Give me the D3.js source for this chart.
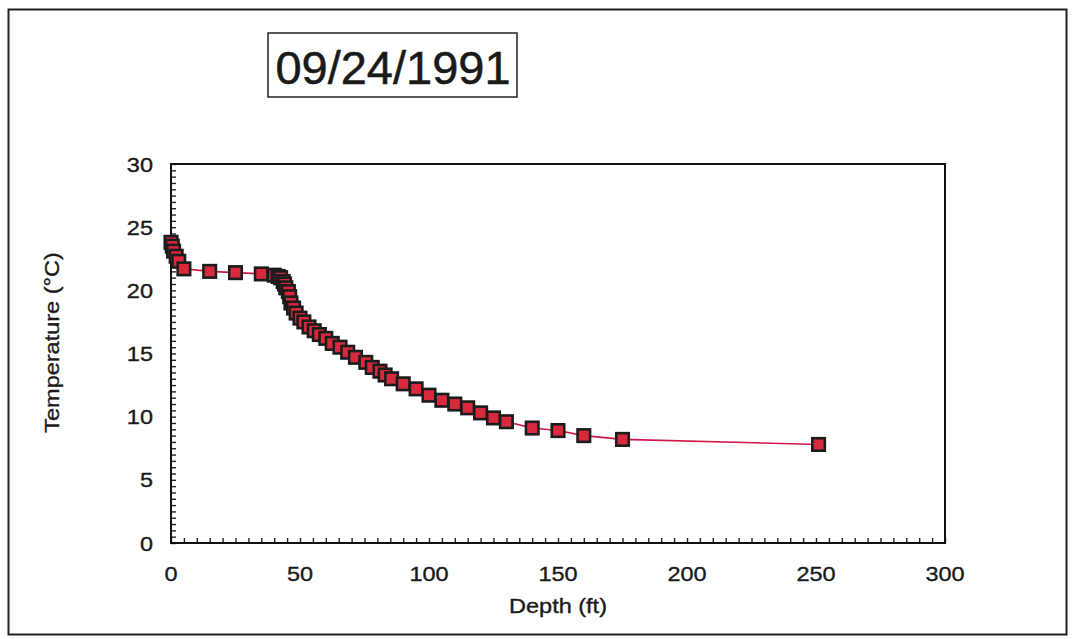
<!DOCTYPE html>
<html>
<head>
<meta charset="utf-8">
<script src="https://cdn.jsdelivr.net/npm/d3@7"></script>
<style>
  body { margin: 0; background: #fff; }
  text { font-family: "Liberation Sans", Arial, sans-serif; fill: #1a1a1a; stroke: #1a1a1a; stroke-width: 0.35px; }
</style>
</head>
<body>
<div id="chart"></div>
<script>
// profile values
var depth = [0, 0.5, 1, 2, 3, 5, 15, 25, 35, 40, 41.5, 42.5, 43.5, 44, 44.5, 45.5, 46, 46.5,
  47.5, 48.5, 50, 51.5, 53.5, 55.5, 57.5, 60, 62.5, 65.5, 68.5, 71.5, 75.5, 78, 81, 83, 85.5,
  90, 95, 100, 105, 110, 115, 120, 125, 130, 140, 150, 160, 175, 251];
var temp = [23.8, 23.5, 23.1, 22.7, 22.3, 21.7, 21.5, 21.4, 21.3, 21.2, 21.1, 21.0, 20.7, 20.5,
  20.2, 19.9, 19.5, 19.0, 18.6, 18.2, 17.8, 17.5, 17.1, 16.8, 16.5, 16.2, 15.8, 15.5, 15.1,
  14.7, 14.3, 13.9, 13.6, 13.3, 13.0, 12.6, 12.2, 11.7, 11.3, 11.0, 10.7, 10.3, 9.9, 9.6,
  9.1, 8.9, 8.5, 8.2, 7.8];
var xTicks = [0, 50, 100, 150, 200, 250, 300];
var yTicks = [0, 5, 10, 15, 20, 25, 30];
var title = "09/24/1991";

var W = 1080, H = 639;
var margin = { top: 164, right: 135, bottom: 96, left: 171 };
var width = W - margin.left - margin.right,
  height = H - margin.top - margin.bottom;

var root = d3.select("#chart").append("svg")
  .attr("width", W)
  .attr("height", H);

// page frame
root.append("rect")
  .attr("x", 8.5).attr("y", 9.5)
  .attr("width", 1058).attr("height", 625)
  .attr("fill", "none").attr("stroke", "#222").attr("stroke-width", 2);

// title box
root.append("rect")
  .attr("x", 268).attr("y", 33)
  .attr("width", 249).attr("height", 64)
  .attr("fill", "#fff").attr("stroke", "#222").attr("stroke-width", 1.5);
root.append("text")
  .attr("x", 393).attr("y", 84)
  .attr("text-anchor", "middle")
  .style("font-size", "47px")
  .style("stroke-width", "0.5px")
  .text(title);

var svg = root.append("g")
  .attr("transform", "translate(" + margin.left + "," + margin.top + ")");

var x = d3.scaleLinear().domain([0, 300]).range([0, width]);
var y = d3.scaleLinear().domain([0, 30]).range([height, 0]);

// minor ticks, pointing inward
var xAxis = d3.axisTop(x).tickValues(d3.range(0, 301, 5)).tickSize(5).tickFormat("");
var yAxis = d3.axisRight(y).tickValues(d3.range(0, 30.01, 0.5)).tickSize(5).tickFormat("");
svg.append("g").attr("class", "x axis")
  .attr("transform", "translate(0," + height + ")")
  .call(xAxis);
svg.append("g").attr("class", "y axis").call(yAxis);
svg.selectAll(".axis path").remove();
svg.selectAll(".axis line").attr("stroke", "#222").attr("stroke-width", 1.4);

// plot frame
svg.append("rect")
  .attr("width", width).attr("height", height)
  .attr("fill", "none").attr("stroke", "#111").attr("stroke-width", 2);

// tick labels (glyphs in the scan are a bit wider than Arial)
svg.selectAll(".xl").data(xTicks).enter().append("text")
  .attr("class", "xl")
  .attr("text-anchor", "middle")
  .attr("transform", function (d) { return "translate(" + x(d) + "," + (height + 38) + ") scale(1.12,1)"; })
  .style("font-size", "21px")
  .text(function (d) { return d; });

svg.selectAll(".yl").data(yTicks).enter().append("text")
  .attr("class", "yl")
  .attr("text-anchor", "end")
  .attr("transform", function (d) { return "translate(-18," + (y(d) + 7.5) + ") scale(1.12,1)"; })
  .style("font-size", "21px")
  .text(function (d) { return d; });

svg.append("text")
  .attr("text-anchor", "middle")
  .attr("transform", "translate(" + width / 2 + "," + (height + 70) + ") scale(1.12,1)")
  .style("font-size", "21px")
  .text("Depth (ft)");

svg.append("text")
  .attr("text-anchor", "middle")
  .attr("transform", "translate(-112," + (height / 2 - 11) + ") rotate(-90) scale(1.12,1)")
  .style("font-size", "21px")
  .text("Temperature (°C)");

// data
var pts = depth.map(function (d, i) { return [d, temp[i]]; });
var line = d3.line()
  .x(function (d) { return x(d[0]); })
  .y(function (d) { return y(d[1]); });

svg.append("path")
  .datum(pts)
  .attr("fill", "none")
  .attr("stroke", "#d0184a")
  .attr("stroke-width", 1.6)
  .attr("d", line);

var s = 12.5;
svg.selectAll(".pt").data(pts).enter().append("rect")
  .attr("class", "pt")
  .attr("x", function (d) { return x(d[0]) - s / 2; })
  .attr("y", function (d) { return y(d[1]) - s / 2; })
  .attr("width", s).attr("height", s)
  .attr("fill", "#d82a3c")
  .attr("stroke", "#1c1c1c")
  .attr("stroke-width", 2.6);
</script>
</body>
</html>
